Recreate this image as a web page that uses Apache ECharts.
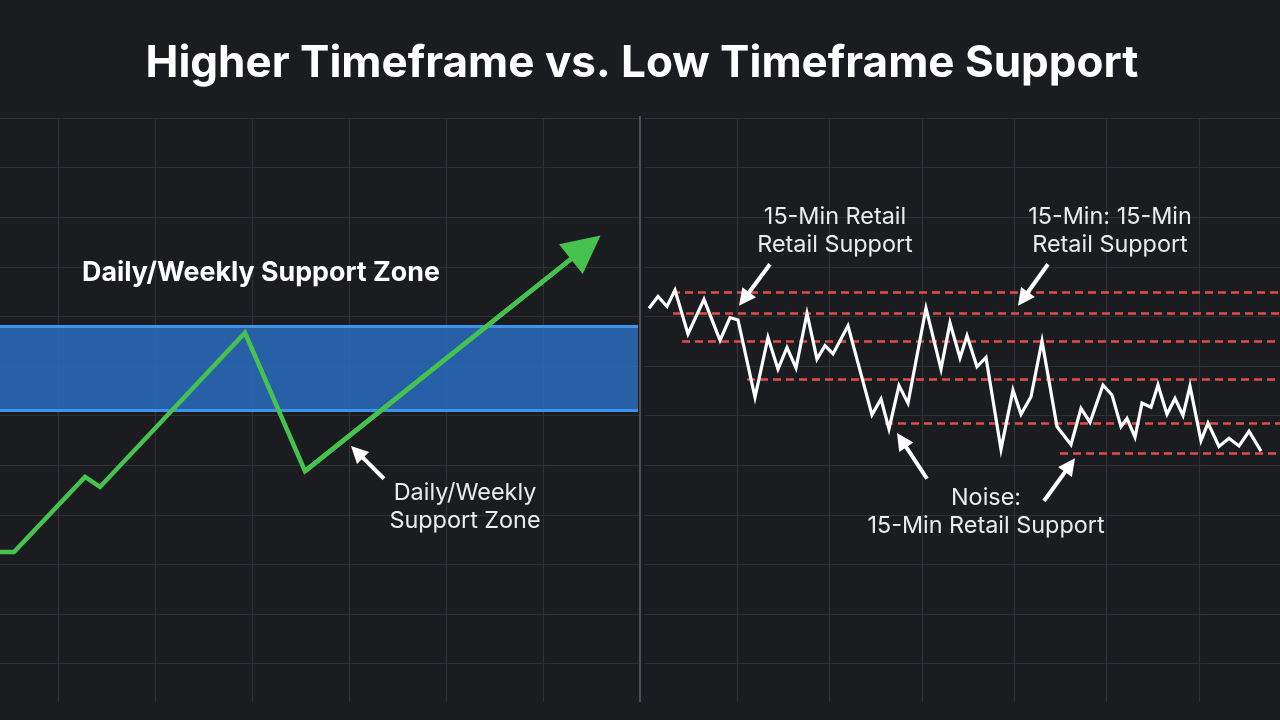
<!DOCTYPE html>
<html><head><meta charset="utf-8">
<script src="https://cdn.jsdelivr.net/npm/echarts@6/dist/echarts.min.js"></script>
<style>html,body{margin:0;padding:0;background:#1b1c20}#c{width:1280px;height:720px}</style>
</head><body><div id="c"></div>
<script>
// ---------------- data ----------------
const titleText = 'Higher Timeframe vs. Low Timeframe Support';

// Left panel: higher-timeframe price path (time, price); last point = arrow tip
const htfX = [0, 1.4, 8.5, 10.0, 24.5, 30.5, 59.9];
const htfY = [25.6, 25.6, 38.4, 36.7, 63.0, 39.4, 79.4];
const zoneLow = 49.8, zoneHigh = 64.2;

// Right panel: 15-min noisy price path
const ltfX = [0.9,1.8,2.7,3.5,4.8,6.4,8.0,9.0,9.8,11.5,12.8,13.8,14.7,15.6,16.7,17.7,18.5,19.3,20.8,23.2,24.1,24.9,25.9,26.8,28.6,30.1,31.0,32.0,32.7,33.7,34.6,36.1,37.3,38.1,39.1,40.2,41.7,43.1,44.1,45.0,46.3,47.2,48.1,48.7,49.5,50.2,51.1,51.8,52.7,53.5,54.3,55.0,56.1,56.8,57.9,58.9,59.9,60.9,62.1];
const ltfY = [67.2,69.2,67.5,70.3,62.8,68.7,61.7,65.6,65.2,52.0,62.2,56.8,60.5,57.0,66.3,58.5,60.8,59.4,64.2,49.0,51.7,46.6,54.0,51.0,67.2,56.8,64.7,58.7,62.5,57.2,58.8,43.1,53.2,49.1,52.1,61.6,47.0,43.9,50.1,47.7,54.1,52.4,47.0,48.4,45.2,51.0,50.3,54.1,49.1,51.8,48.9,53.9,44.6,47.6,43.6,45.0,43.7,46.2,42.8];

// Retail support levels (price, start time)
const levelY = [70.0, 66.3, 61.6, 55.1, 47.6, 42.5];
const levelStart = [3.2, 3.3, 4.2, 10.7, 24.5, 42.0];

// Annotation arrows [tail, tip]
const leftArrows = [[[38.4, 38.1], [35.1, 43.7]]];
const rightArrows = [
  [[13.0, 74.7], [9.9, 67.6]],
  [[40.8, 74.7], [37.8, 67.6]],
  [[28.7, 38.1], [25.7, 45.9]],
  [[40.4, 34.3], [43.5, 41.6]]
];

// Texts
const zoneTitle = 'Daily/Weekly Support Zone';
const zoneNote = 'Daily/Weekly\nSupport Zone';
const note1 = '15-Min Retail\nRetail Support';
const note2 = '15-Min: 15-Min\nRetail Support';
const note3 = 'Noise:\n15-Min Retail Support';

// ---------------- chart ----------------
const chart = echarts.init(document.getElementById('c'), null, {renderer: 'canvas'});
const BG = '#1b1c20', GRIDC = '#2e3036';
const GREEN = '#46c34f', RED = '#e24c4c';
const FONT = 'Inter, "Noto Sans", sans-serif';

function hidden(idx, min, max) {
  return {type: 'value', gridIndex: idx, min, max, show: false, splitLine: {show: false}};
}
function bgAxis(idx, inverse, max) {
  return {type: 'value', gridIndex: idx, inverse, min: 0, max, interval: 1,
    axisLine: {show: false}, axisTick: {show: false}, axisLabel: {show: false},
    splitLine: {show: true, showMinLine: true, showMaxLine: false, lineStyle: {color: GRIDC, width: 1.2}}};
}

const xLeftBg = bgAxis(0, true, 640 / 97); xLeftBg.splitLine.showMinLine = false;
const xRightBg = bgAxis(1, false, 635.4 / 92.4); xRightBg.splitLine.showMinLine = false;

const noteStyle = (text) => ({text, textAlign: 'center', textVerticalAlign: 'middle', font: '23.4px ' + FONT, fill: '#ececec', lineHeight: 28.5});

const option = {
  backgroundColor: BG,
  animation: false,
  grid: [
    {left: 0, top: 118, width: 640, height: 584},
    {left: 644.6, top: 118, width: 635.4, height: 584},
    {left: 0, top: 116, width: 640, height: 586},
    {left: 640, top: 116, width: 640, height: 586}
  ],
  xAxis: [xLeftBg, xRightBg, hidden(2, 0, 64), hidden(3, 0, 64)],
  yAxis: [bgAxis(0, true, 584 / 49.6), bgAxis(1, true, 584 / 49.6), hidden(2, 0, 100), hidden(3, 0, 100)],
  graphic: [
    {type: 'line', shape: {x1: 640, y1: 116, x2: 640, y2: 702}, style: {stroke: '#4d5057', lineWidth: 2}, z: 50},
    {type: 'text', x: 642, y: 63.5, style: {text: titleText, textAlign: 'center', textVerticalAlign: 'middle', font: 'bold 44px ' + FONT, fill: '#ffffff'}, z: 60},
    {type: 'text', x: 261, y: 273, style: {text: zoneTitle, textAlign: 'center', textVerticalAlign: 'middle', font: 'bold 26.8px ' + FONT, fill: '#ffffff'}, z: 60},
    {type: 'text', x: 465, y: 507, style: noteStyle(zoneNote), z: 60},
    {type: 'text', x: 835, y: 231, style: noteStyle(note1), z: 60},
    {type: 'text', x: 1110, y: 231, style: noteStyle(note2), z: 60},
    {type: 'text', x: 986, y: 512, style: noteStyle(note3), z: 60}
  ],
  series: [
    {
      id: 'htf', type: 'line', xAxisIndex: 2, yAxisIndex: 2, z: 5,
      data: htfX.map((x, i) => [x, htfY[i]]),
      symbol: 'none', lineStyle: {color: GREEN, width: 4.5, join: 'miter'},
      markArea: {silent: true, itemStyle: {color: 'rgba(42,108,192,0.85)'},
        data: [[{coord: [0, zoneLow]}, {coord: [63.8, zoneHigh]}]]}
    },
    {
      id: 'ltf', type: 'line', xAxisIndex: 3, yAxisIndex: 3, z: 6,
      data: ltfX.map((x, i) => [x, ltfY[i]]),
      symbol: 'none', lineStyle: {color: '#ffffff', width: 3.2, join: 'miter'}
    }
  ]
};
chart.setOption(option);

function headCenter(grid, tail, tip, back) {
  const a = chart.convertToPixel({gridIndex: grid}, tail);
  const b = chart.convertToPixel({gridIndex: grid}, tip);
  const dx = b[0] - a[0], dy = b[1] - a[1], L = Math.hypot(dx, dy);
  return chart.convertFromPixel({gridIndex: grid}, [b[0] - dx / L * back, b[1] - dy / L * back]);
}
function arrowItem(grid, pair, color, width, size) {
  const end = headCenter(grid, pair[0], pair[1], size / 2);
  return [{coord: pair[0], symbol: 'none', lineStyle: {color, width, type: 'solid'}},
          {coord: end, symbol: 'triangle', symbolSize: size}];
}

const n = htfX.length;
const greenEnd = headCenter(2, [htfX[n - 2], htfY[n - 2]], [htfX[n - 1], htfY[n - 1]], 17);
const greenData = htfX.map((x, i) => [x, htfY[i]]);
greenData[n - 1] = greenEnd;

const htfMarks = [
  [{coord: [0, zoneHigh], symbol: 'none', lineStyle: {color: '#3d92ea', width: 3, type: 'solid'}}, {coord: [63.8, zoneHigh], symbol: 'none'}],
  [{coord: [0, zoneLow], symbol: 'none', lineStyle: {color: '#3d92ea', width: 3, type: 'solid'}}, {coord: [63.8, zoneLow], symbol: 'none'}],
  [{coord: [htfX[n - 2], htfY[n - 2]], symbol: 'none', lineStyle: {color: GREEN, width: 4.5, type: 'solid'}}, {coord: greenEnd, symbol: 'triangle', symbolSize: 38}]
].concat(leftArrows.map(p => arrowItem(2, p, '#ffffff', 4, 17)));

const ltfMarks = levelY.map((y, i) => [
  {coord: [levelStart[i], y], symbol: 'none', lineStyle: {color: RED, width: 2.5, type: [8, 5]}},
  {coord: [64, y], symbol: 'none'}
]).concat(rightArrows.map(p => arrowItem(3, p, '#ffffff', 4, 17)));

chart.setOption({
  series: [
    {id: 'htf', data: greenData, markLine: {silent: true, symbol: ['none', 'none'], label: {show: false}, emphasis: {disabled: true}, data: htfMarks}},
    {id: 'ltf', markLine: {silent: true, symbol: ['none', 'none'], label: {show: false}, emphasis: {disabled: true}, z: 4, data: ltfMarks}}
  ]
});
</script>
</body></html>
